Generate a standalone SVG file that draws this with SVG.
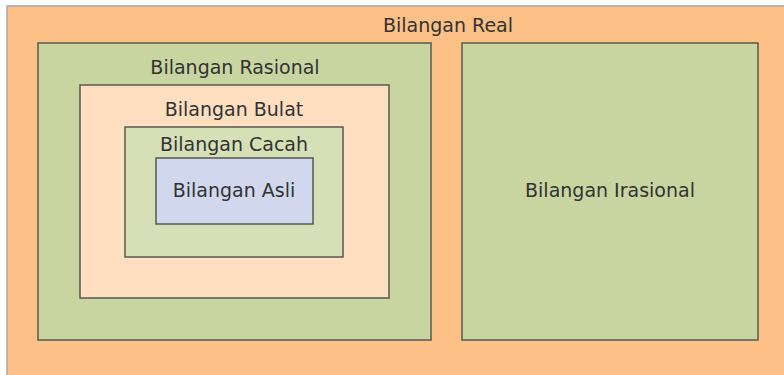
<svg xmlns="http://www.w3.org/2000/svg" width="784" height="375" viewBox="0 0 784 375">
<style>
.b{stroke:#555a50;stroke-width:1.5}
text{font-family:"DejaVu Sans",sans-serif;font-size:19px;fill:#333;text-anchor:middle;dominant-baseline:central}
</style>
<rect x="0" y="0" width="784" height="375" fill="#ffffff"/>
<g id="real">
<rect x="7" y="6" width="790" height="380" fill="#fdc086" stroke="#a8a8a8" stroke-width="1.5"/>
<text x="448" y="25">Bilangan Real</text>
</g>
<g id="rasional">
<rect class="b" x="38" y="43" width="393" height="297" fill="#c9d5a1"/>
<text x="235" y="67">Bilangan Rasional</text>
</g>
<g id="bulat">
<rect class="b" x="80" y="85" width="309" height="213" fill="#ffdfc0"/>
<text x="234" y="109">Bilangan Bulat</text>
</g>
<g id="cacah">
<rect class="b" x="125" y="127" width="218" height="130" fill="#d5e0b6"/>
<text x="234" y="144">Bilangan Cacah</text>
</g>
<g id="asli">
<rect class="b" x="156" y="158" width="157" height="66" fill="#d1d8ee"/>
<text x="234" y="190">Bilangan Asli</text>
</g>
<g id="irasional">
<rect class="b" x="462" y="43" width="296" height="297" fill="#c9d5a1"/>
<text x="610" y="190">Bilangan Irasional</text>
</g>
<g id="connectors"></g>
</svg>
